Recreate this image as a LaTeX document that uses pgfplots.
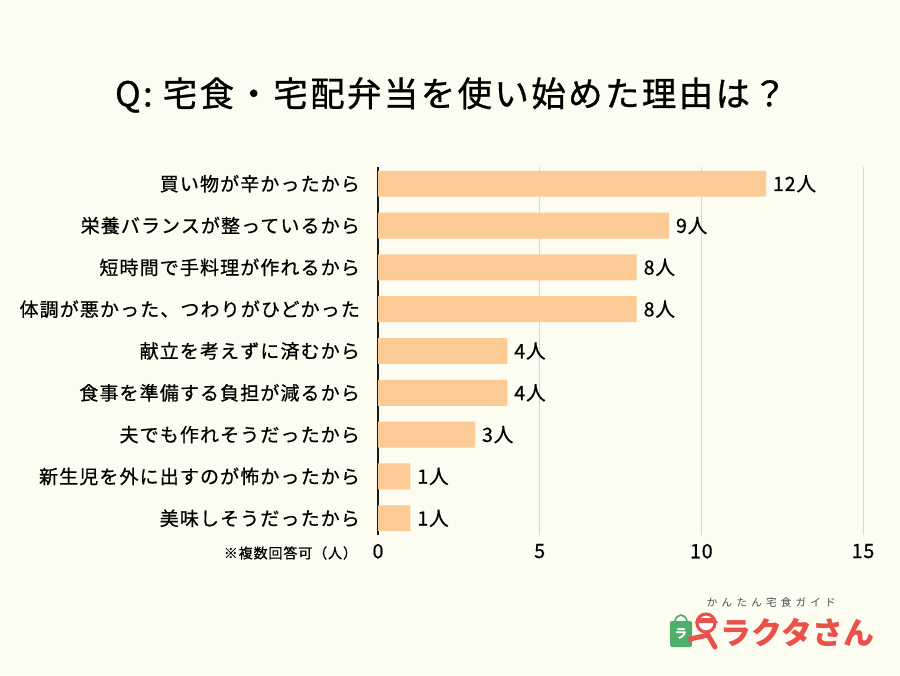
\documentclass[border=0pt]{standalone}
\usepackage{pgfplots}
\pgfplotsset{compat=1.18}
\usepackage{fontspec}
\setmainfont{Noto Sans CJK JP}
\newfontfamily\titlefont[LetterSpace=7,FakeBold=0.8]{Noto Sans CJK JP}
\newfontfamily\labelfont[LetterSpace=6,FakeBold=0.6]{Noto Sans CJK JP}
\newfontfamily\valuefont[LetterSpace=4,FakeBold=0.6]{Noto Sans CJK JP}
\newfontfamily\logofont[LetterSpace=40]{Noto Sans CJK JP}

\definecolor{bgcol}{HTML}{FDFCF0}
\definecolor{barcol}{HTML}{FCCA94}
\definecolor{gridcol}{HTML}{D8D8D6}
\definecolor{logored}{HTML}{E8524A}
\definecolor{logogreen}{HTML}{4FAE6A}

\begin{document}
\begin{tikzpicture}[x=0.25mm,y=0.25mm]
% canvas
\fill[bgcol] (0,0) rectangle (900,675);

% title
\node[font=\titlefont\fontsize{24.5}{28}\selectfont] at (451,580)
  {Q: 宅食・宅配弁当を使い始めた理由は？};

\begin{axis}[
  at={(94.5mm,35mm)}, anchor=south west,
  scale only axis, width=121.25mm, height=92mm,
  xbar, bar width=0.62, bar shift=0pt,
  xmin=0, xmax=15, ymin=-0.4, ymax=8.4,
  y dir=reverse,
  xtick={0,5,10,15},
  ytick={0,...,8},
  yticklabels={買い物が辛かったから,栄養バランスが整っているから,短時間で手料理が作れるから,体調が悪かった、つわりがひどかった,献立を考えずに済むから,食事を準備する負担が減るから,夫でも作れそうだったから,新生児を外に出すのが怖かったから,美味しそうだったから},
  axis x line*=bottom, x axis line style={draw=none},
  axis y line*=left, y axis line style={draw=black!90, line width=1pt},
  major tick length=0pt,
  xmajorgrids, grid style={gridcol, line width=0.6pt},
  /pgf/number format/assume math mode=true,
  xticklabel style={font=\valuefont\fontsize{14}{16}\selectfont, yshift=-1mm},
  yticklabel style={font=\labelfont\fontsize{13.5}{16}\selectfont, xshift=-3.3mm},
  nodes near coords={\pgfmathprintnumber{\pgfplotspointmeta}人},
  nodes near coords style={anchor=west, xshift=0.5mm, font=\valuefont\fontsize{14}{16}\selectfont},
  point meta=explicit,
]
\addplot[fill=barcol, draw=none] coordinates {
  (12,0) [12]
  (9,1)  [9]
  (8,2)  [8]
  (8,3)  [8]
  (4,4)  [4]
  (4,5)  [4]
  (3,6)  [3]
  (1,7)  [1]
  (1,8)  [1]
};
\end{axis}

% footnote
\node[anchor=east, font=\labelfont\fontsize{10}{12}\selectfont] at (362,122) {※複数回答可（人）};

% logo
\node[anchor=west, text=black!70, font=\logofont\fontsize{7.5}{9}\selectfont] at (702,73) {かんたん宅食ガイド};
\fill[logogreen, rounded corners=1.5] (670,28) rectangle (692,54);
\draw[logogreen, line width=1.2pt] (675,54) .. controls (677,62) and (685,62) .. (687,54);
\node[text=white, font=\bfseries\fontsize{9}{10}\selectfont] at (681,41) {ラ};
\draw[logored, line width=2.2pt, fill=white] (706,52) circle (9);
\fill[logored] (697,57) -- (715,57) -- (718,52) -- (695,52) -- cycle;
\draw[logored, line width=3.5pt, line cap=round] (690,36) -- (708,40) -- (715,28);
\node[anchor=west, text=logored, font=\bfseries\fontsize{22}{24}\selectfont] at (716,42) {ラクタさん};
\end{tikzpicture}
\end{document}
